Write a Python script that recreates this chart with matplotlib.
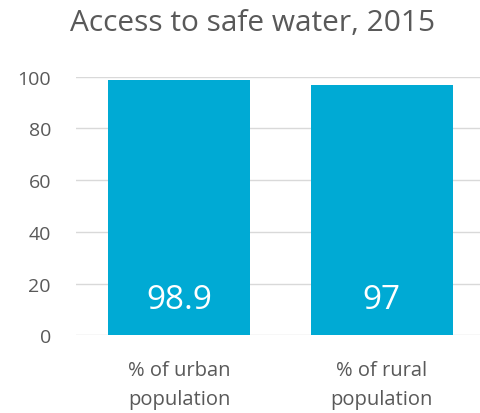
import matplotlib.pyplot as plt

categories = ["% of urban\npopulation", "% of rural\npopulation"]
values = [98.9, 97]
value_labels = ["98.9", "97"]
yticks = [0, 20, 40, 60, 80, 100]

plt.rcParams['font.family'] = ['Open Sans', 'DejaVu Sans']

fig = plt.figure(figsize=(4.81, 4.14), dpi=100)
ax = fig.add_axes([0.158, 0.188, 0.842, 0.624])

x = range(len(categories))
ax.bar(x, values, width=0.7, color="#00AAD4", zorder=2)

for i, lab in enumerate(value_labels):
    ax.text(i, 14, lab, ha="center", va="center", color="white", fontsize=24)

ax.set_xlim(-0.51, 1.49)
ax.set_ylim(0, 100)
ax.set_yticks(yticks)
ax.set_yticklabels([str(t) for t in yticks], fontsize=14, color="#595959")
ax.set_xticks(list(x))
ax.set_xticklabels(categories, fontsize=14.5, color="#595959", linespacing=1.6)
ax.tick_params(length=0)
ax.tick_params(axis="y", pad=18)
ax.tick_params(axis="x", pad=18)
ax.grid(axis="y", color="#d9d9d9", linewidth=1, zorder=0)
for s in ax.spines.values():
    s.set_visible(False)

fig.text(0.526, 0.943, "Access to safe water, 2015", ha="center", va="center",
         fontsize=21.5, color="#595959")

fig.savefig("out.png", dpi=100)
